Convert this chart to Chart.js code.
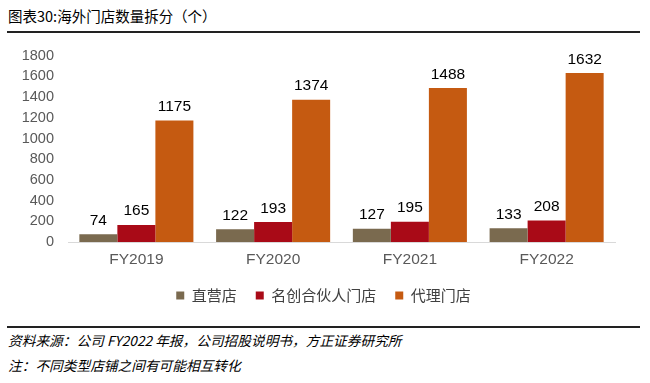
<!DOCTYPE html>
<html><head><meta charset="utf-8">
<script src="https://cdn.jsdelivr.net/npm/chart.js@4/dist/chart.umd.min.js"></script>
<style>
html,body{margin:0;padding:0;background:#fff;width:650px;height:383px;overflow:hidden;font-family:"Noto Sans CJK SC",sans-serif;}
#title{position:absolute;left:8px;top:5px;font-size:14.5px;color:#000;}
#l1{position:absolute;left:7px;top:31px;width:633px;height:2px;background:#222;}
#l2{position:absolute;left:7px;top:326px;width:633px;height:2px;background:#222;}
#src{position:absolute;left:8px;top:330px;font-size:13.7px;font-style:italic;color:#000;}
#note{position:absolute;left:8px;top:355px;font-size:13.7px;font-style:italic;color:#000;}
#wrap{position:absolute;left:0;top:33px;width:650px;height:280px;}
</style></head>
<body>
<div id="title">图表30:海外门店数量拆分（个）</div>
<div id="l1"></div>
<div id="wrap"><canvas id="c"></canvas></div>
<div id="l2"></div>
<div id="src">资料来源：公司 FY2022 年报，公司招股说明书，方正证券研究所</div>
<div id="note">注：不同类型店铺之间有可能相互转化</div>
<script>
const categories = ["FY2019","FY2020","FY2021","FY2022"];
const seriesNames = ["直营店","名创合伙人门店","代理门店"];
const directStores = [74,122,127,133];
const partnerStores = [165,193,195,208];
const agentStores = [1175,1374,1488,1632];
const yTicks = [0,200,400,600,800,1000,1200,1400,1600,1800];
const colors = ["#7A6A4F","#A90A17","#C55A11"];

const valueLabels = {
  id:'valueLabels',
  afterDatasetsDraw(chart){
    const ctx = chart.ctx;
    ctx.save();
    ctx.font = '15.5px Arial, "Liberation Sans"';
    ctx.fillStyle = '#000';
    ctx.textAlign = 'center';
    ctx.textBaseline = 'bottom';
    chart.data.datasets.forEach((ds,i)=>{
      chart.getDatasetMeta(i).data.forEach((bar,j)=>{
        ctx.fillText(String(ds.data[j]), bar.x, bar.y - 6);
      });
    });
    ctx.restore();
  }
};

new Chart(document.getElementById('c'),{
  type:'bar',
  data:{
    labels:categories,
    datasets:[
      {label:seriesNames[0],data:directStores,backgroundColor:colors[0]},
      {label:seriesNames[1],data:partnerStores,backgroundColor:colors[1]},
      {label:seriesNames[2],data:agentStores,backgroundColor:colors[2]}
    ]
  },
  options:{
    responsive:true,maintainAspectRatio:false,animation:false,
    layout:{padding:{top:7,right:19,left:16,bottom:0}},
    datasets:{bar:{categoryPercentage:0.834,barPercentage:1.0}},
    plugins:{
      legend:{position:'bottom',
        labels:{boxWidth:8,boxHeight:8,padding:19,color:'#404040',
          font:{size:15,family:'"Noto Sans CJK SC", sans-serif'}}},
      tooltip:{enabled:false}
    },
    scales:{
      x:{grid:{display:false,drawTicks:false},
        border:{display:true,color:'#D9D9D9',width:1},
        ticks:{color:'#595959',padding:8,font:{size:15.5,family:'Arial, "Liberation Sans"'}},
        afterFit(s){s.height=27;}
      },
      y:{min:0,max:1800,
        afterBuildTicks(s){s.ticks=yTicks.map(v=>({value:v}));},
        grid:{display:false,drawTicks:false},
        border:{display:false},
        ticks:{color:'#595959',padding:14,callback:(v)=>String(v),font:{size:14.5,family:'Arial, "Liberation Sans"'}},
        afterFit(s){s.width=52;}
      },
      yRight:{position:'right',min:0,max:1800,
        grid:{display:false,drawTicks:false},
        border:{display:false},
        ticks:{display:false},
        afterFit(s){s.width=16;}
      }
    }
  },
  plugins:[valueLabels]
});
</script>
</body></html>
